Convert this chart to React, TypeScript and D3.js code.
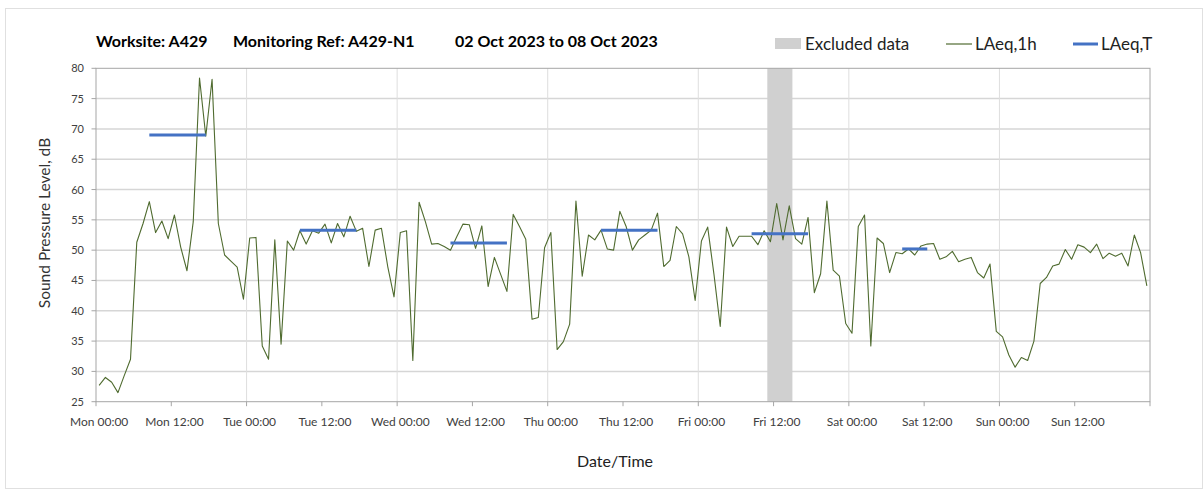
import React from 'react'
import { scaleLinear, line, range } from 'd3'

// hourly LAeq,1h values, Mon 00:00 .. Sun 23:00
const hourlyLAeq = [
  27.7, 29.0, 28.2, 26.5, 29.3, 32.0, 51.3, 54.4, 58.0, 52.9, 54.8, 51.9, 55.8, 50.5, 46.6, 54.7, 78.4, 68.8, 78.2, 54.4, 49.2, 48.2, 47.2, 41.9,
  52.0, 52.1, 34.2, 32.0, 51.7, 34.5, 51.5, 50.0, 53.2, 51.0, 53.2, 52.8, 54.3, 51.2, 54.4, 52.2, 55.6, 53.1, 53.6, 47.3, 53.3, 53.6, 47.3, 42.3,
  52.9, 53.2, 31.8, 57.9, 54.7, 51.0, 51.1, 50.6, 50.0, 52.2, 54.3, 54.2, 50.3, 54.0, 44.0, 48.8, 46.0, 43.2, 55.9, 53.9, 51.8, 38.6, 38.9, 50.4,
  52.9, 33.6, 34.9, 37.8, 58.1, 45.7, 52.5, 51.7, 53.3, 50.2, 50.0, 56.4, 53.9, 50.0, 51.7, 52.5, 53.3, 56.1, 47.3, 48.3, 53.9, 52.7, 48.9, 41.7,
  51.5, 53.8, 46.0, 37.4, 53.8, 50.6, 52.3, 52.3, 52.3, 50.9, 53.2, 51.4, 57.7, 51.7, 57.3, 51.9, 51.0, 55.4, 43.0, 46.1, 58.1, 46.7, 45.7, 37.9,
  36.3, 53.9, 55.8, 34.2, 52.0, 51.1, 46.3, 49.6, 49.4, 50.2, 49.2, 50.7, 51.0, 51.1, 48.5, 48.9, 49.8, 48.1, 48.5, 48.8, 46.3, 45.4, 47.7, 36.6,
  35.7, 32.7, 30.7, 32.3, 31.8, 35.0, 44.5, 45.5, 47.4, 47.7, 50.1, 48.5, 50.9, 50.5, 49.6, 51.0, 48.6, 49.5, 49.0, 49.5, 47.4, 52.5, 49.6, 44.1,
]

// LAeq,T working-period averages (start hour, end hour, level)
const periodStart = [8, 32, 56, 80, 104, 128]
const periodEnd = [17, 41, 65, 89, 113, 132]
const periodLevel = [69.0, 53.3, 51.2, 53.3, 52.7, 50.2]

// excluded data (hour range)
const excludedFrom = [107]
const excludedTo = [111]

const tickLabels = [
  'Mon 00:00', 'Mon 12:00', 'Tue 00:00', 'Tue 12:00', 'Wed 00:00', 'Wed 12:00', 'Thu 00:00',
  'Thu 12:00', 'Fri 00:00', 'Fri 12:00', 'Sat 00:00', 'Sat 12:00', 'Sun 00:00', 'Sun 12:00',
]
const yTicks = [25, 30, 35, 40, 45, 50, 55, 60, 65, 70, 75, 80]

const font = 'Lato, "Open Sans", sans-serif'

export default function App() {
  const width = 1203
  const height = 490
  const plot = { left: 96, right: 1150, top: 68.3, bottom: 401.7 }

  const x = scaleLinear().domain([0, 168]).range([plot.left, plot.right])
  const y = scaleLinear().domain([25, 80]).range([plot.bottom, plot.top])

  const path = line<number>()
    .x((_, i) => x(i + 0.5))
    .y(d => y(d))(hourlyLAeq)

  return (
    <svg width={width} height={height} style={{ position: 'absolute', left: 0, top: 0, background: '#fff' }}
      fontFamily={font}>
      <rect x={5.5} y={8.5} width={1197} height={480} fill="#fff" stroke="#e0e0e0" />

      {/* title */}
      <text x={96} y={47} fontSize={16} fontWeight="bold" fill="#000">Worksite: A429</text>
      <text x={233} y={47} fontSize={16} fontWeight="bold" fill="#000">Monitoring Ref: A429-N1</text>
      <text x={455} y={47} fontSize={16} fontWeight="bold" fill="#000">02 Oct 2023 to 08 Oct 2023</text>

      {/* legend */}
      <rect x={775} y={38} width={26} height={11} fill="#d0d0d0" />
      <text x={805} y={50} fontSize={17} fill="#222">Excluded data</text>
      <line x1={946} x2={972} y1={44} y2={44} stroke="#4f6b2f" strokeWidth={1.2} />
      <text x={975} y={50} fontSize={17} fill="#222">LAeq,1h</text>
      <line x1={1073} x2={1098} y1={44} y2={44} stroke="#4472c4" strokeWidth={3} />
      <text x={1101} y={50} fontSize={17} fill="#222">LAeq,T</text>

      {/* gridlines */}
      {yTicks.slice(1, -1).map(t => (
        <line key={'gy' + t} x1={plot.left} x2={plot.right} y1={y(t)} y2={y(t)} stroke="#d6d6d6" strokeWidth={1.5} />
      ))}
      {range(24, 168, 24).map(h => (
        <line key={'gx' + h} x1={x(h)} x2={x(h)} y1={plot.top} y2={plot.bottom} stroke="#dedede" strokeWidth={1} />
      ))}

      {/* excluded data band */}
      {excludedFrom.map((f, i) => (
        <rect key={'ex' + i} x={x(f)} y={plot.top} width={x(excludedTo[i]) - x(f)} height={plot.bottom - plot.top} fill="#d0d0d0" />
      ))}

      {/* plot border / axes */}
      <rect x={plot.left} y={plot.top} width={plot.right - plot.left} height={plot.bottom - plot.top}
        fill="none" stroke="#a6a6a6" strokeWidth={1} />

      {yTicks.map(t => (
        <g key={'yt' + t}>
          <line x1={plot.left - 4.5} x2={plot.left} y1={y(t)} y2={y(t)} stroke="#a6a6a6" />
          <text x={84} y={y(t) + 4} fontSize={11} textAnchor="end" fill="#404040">{t}</text>
        </g>
      ))}

      {range(0, 169, 12).map(h => (
        <line key={'xt' + h} x1={x(h)} x2={x(h)} y1={plot.bottom} y2={plot.bottom + 4.5} stroke="#a6a6a6" />
      ))}
      {tickLabels.map((lab, i) => (
        <text key={lab} x={x(i * 12 + 0.5)} y={426} fontSize={12} textAnchor="middle" fill="#404040">{lab}</text>
      ))}

      {/* series */}
      <path d={path ?? ''} fill="none" stroke="#4f6b2f" strokeWidth={1.1} strokeLinejoin="round" />
      {periodStart.map((s, i) => (
        <line key={'p' + i} x1={x(s + 0.5)} x2={x(periodEnd[i] + 0.5)} y1={y(periodLevel[i])} y2={y(periodLevel[i])}
          stroke="#4472c4" strokeWidth={3} />
      ))}

      {/* axis titles */}
      <text transform={`translate(50, 223) rotate(-90)`} fontSize={15.5} textAnchor="middle" fill="#333">
        Sound Pressure Level, dB
      </text>
      <text x={615} y={467} fontSize={16} textAnchor="middle" fill="#222">Date/Time</text>
    </svg>
  )
}
